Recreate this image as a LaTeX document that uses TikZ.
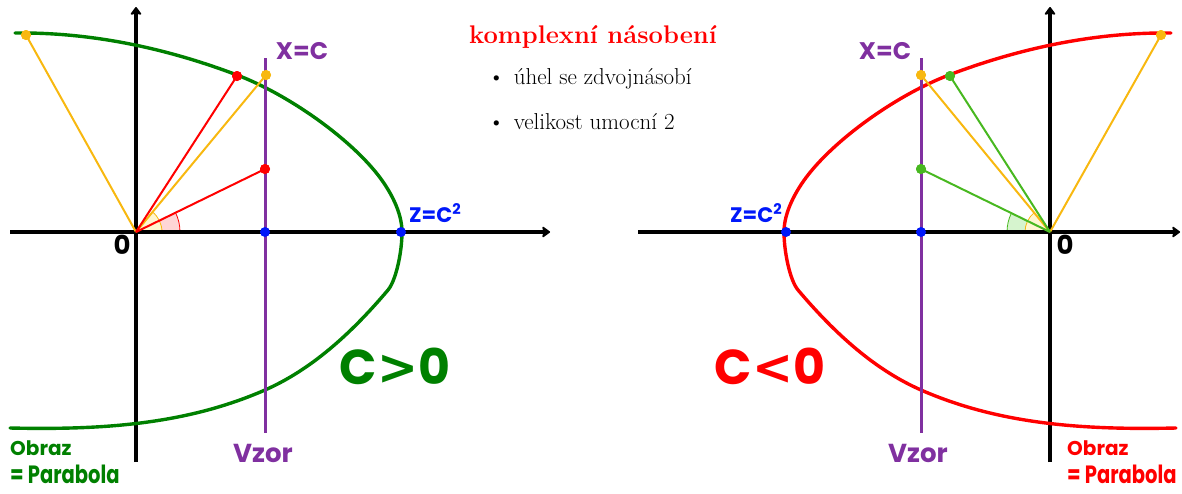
\documentclass[tikz,border=0pt]{standalone}
\usepackage{fontspec}
\usepackage{graphicx}
\newfontfamily\hand{Poppins}
\newfontfamily\symf{DejaVu Sans}
\usetikzlibrary{arrows.meta}
\definecolor{pgreen}{RGB}{0,128,0}
\definecolor{ppurple}{RGB}{128,48,160}
\definecolor{pyellow}{RGB}{248,184,16}
\definecolor{lgreen}{RGB}{72,184,32}
\definecolor{pblue}{RGB}{0,24,250}
\definecolor{pinkfill}{RGB}{255,214,214}
\definecolor{yelfill}{RGB}{255,246,208}
\definecolor{grnfill}{RGB}{214,244,206}
\tikzset{
  axis/.style={line width=3.3pt, -{Stealth[round,length=9pt,width=13pt,inset=2pt]}},
  parab/.style={line width=3.4pt, line cap=round, line join=round},
  vline/.style={draw=ppurple, line width=3pt},
  ray/.style={line width=2pt},
  dot/.style={circle, fill=#1, inner sep=0pt, minimum size=10pt},
  handtxt/.style={font=\hand\bfseries\fontsize{#1}{#1}\selectfont, inner sep=0pt},
  bullettxt/.style={anchor=west, font=\fontsize{23}{27}\selectfont, inner sep=0pt},
}
\newcommand{\parabpath}{(15,33) .. controls (100,32) and (177,52.2) .. (237,75)
  .. controls (287,94) and (348,136.6) .. (378,175)
  .. controls (390,190.4) and (402,212) .. (402,232)
  .. controls (402,252) and (396,280.5) .. (388,290)
  .. controls (349.5,335.5) and (310,370.2) .. (265,390)
  .. controls (185,425) and (100,430) .. (10,428)}
\newcommand{\gtsym}{{\symf\bfseries >}}
\newcommand{\ltsym}{{\symf\bfseries <}}
\begin{document}
\begin{tikzpicture}[x=1pt,y=-1pt]
\useasboundingbox (0,0) rectangle (1182,493);
% ===== LEFT PANEL =====
\coordinate (O1) at (136,232);
\coordinate (xa1) at (10,232);
\coordinate (xb1) at (550,232);
\coordinate (ya1) at (136,462);
\coordinate (yb1) at (136,7);
\coordinate (pa1) at (265,58);
\coordinate (pb1) at (265,433);
% angle wedges
\fill[pinkfill] (O1) -- ++(44,0) arc[start angle=0,end angle=-26,radius=44] -- cycle;
\draw[red, line width=0.8pt] (O1) ++(44,0) arc[start angle=0,end angle=-26,radius=44];
\fill[yelfill] (O1) -- ++(26,0) arc[start angle=0,end angle=-50.4,radius=26] -- cycle;
\draw[pyellow, line width=0.8pt] (O1) ++(26,0) arc[start angle=0,end angle=-50.4,radius=26];
% axes
\draw[axis] (xa1) -- (xb1);
\draw[axis] (ya1) -- (yb1);
% parabola
\draw[parab, pgreen] \parabpath;
% vertical line
\draw[vline] (pa1) -- (pb1);
% points
\node[dot=pyellow] (y1a) at (26,35) {};
\node[dot=pyellow] (y1b) at (266,75) {};
\node[dot=red] (r1a) at (237,76) {};
\node[dot=red] (r1b) at (265,169) {};
% rays
\draw[ray, pyellow] (O1) -- (y1a.center);
\draw[ray, pyellow] (O1) -- (y1b.center);
\draw[ray, red] (O1) -- (r1a.center);
\draw[ray, red] (O1) -- (r1b.center);
\node[dot=pyellow] at (y1a) {};
\node[dot=pyellow] at (y1b) {};
\node[dot=red] at (r1a) {};
\node[dot=red] at (r1b) {};
\node[dot=pblue] (b1a) at (265,232) {};
\node[dot=pblue] (b1b) at (401,232) {};
% labels
\node[handtxt=26] (o1) at (122,245) {0};
\node[handtxt=24, text=ppurple] (xc1) at (302,51) {X=C};
\node[handtxt=21, text=pblue, anchor=west] (zc1) at (409,213) {Z=C\textsuperscript{2}};
\node[handtxt=26, text=ppurple] (vz1) at (263,453) {Vzor};
\node[handtxt=49, text=pgreen] (cg) at (395,366) {C\gtsym0};
\node[handtxt=20, text=pgreen, anchor=west] (ob1) at (10,448) {Obraz};
\node[handtxt=25, text=pgreen, anchor=west] (pa1t) at (10,474) {\scalebox{0.78}[1]{= Parabola}};
% ===== RIGHT PANEL =====
\coordinate (O2) at (1050,232);
\coordinate (xa2) at (638,232);
\coordinate (xb2) at (1180,232);
\coordinate (ya2) at (1050,462);
\coordinate (yb2) at (1050,7);
\coordinate (pa2) at (921,58);
\coordinate (pb2) at (921,433);
\fill[grnfill] (O2) -- ++(-43,0) arc[start angle=180,end angle=206,radius=43] -- cycle;
\draw[lgreen, line width=0.8pt] (O2) ++(-43,0) arc[start angle=180,end angle=206,radius=43];
\fill[yelfill] (O2) -- ++(-25,0) arc[start angle=180,end angle=230.6,radius=25] -- cycle;
\draw[pyellow, line width=0.8pt] (O2) ++(-25,0) arc[start angle=180,end angle=230.6,radius=25];
\draw[axis] (xa2) -- (xb2);
\draw[axis] (ya2) -- (yb2);
\begin{scope}[xshift=1186pt, xscale=-1]
\draw[parab, red] \parabpath;
\end{scope}
\draw[vline] (pa2) -- (pb2);
\node[dot=pyellow] (y2a) at (1161,35) {};
\node[dot=pyellow] (y2b) at (921,75) {};
\node[dot=lgreen] (g2a) at (950,76) {};
\node[dot=lgreen] (g2b) at (921,169) {};
\draw[ray, pyellow] (O2) -- (y2a.center);
\draw[ray, pyellow] (O2) -- (y2b.center);
\draw[ray, lgreen] (O2) -- (g2a.center);
\draw[ray, lgreen] (O2) -- (g2b.center);
\node[dot=pyellow] at (y2a) {};
\node[dot=pyellow] at (y2b) {};
\node[dot=lgreen] at (g2a) {};
\node[dot=lgreen] at (g2b) {};
\node[dot=pblue] (b2a) at (921,232) {};
\node[dot=pblue] (b2b) at (786,232) {};
\node[handtxt=26] (o2) at (1065,245) {0};
\node[handtxt=24, text=ppurple] (xc2) at (885,51) {X=C};
\node[handtxt=21, text=pblue, anchor=west] (zc2) at (730,213) {Z=C\textsuperscript{2}};
\node[handtxt=26, text=ppurple] (vz2) at (918,453) {Vzor};
\node[handtxt=49, text=red] (cr) at (770,366) {C\ltsym0};
\node[handtxt=20, text=red, anchor=west] (ob2) at (1067,448) {Obraz};
\node[handtxt=25, text=red, anchor=west] (pa2t) at (1067,474) {\scalebox{0.78}[1]{= Parabola}};
% ===== CENTRE TEXT =====
\node[text=red, font=\bfseries\fontsize{25.5}{30}\selectfont, inner sep=0pt] (title) at (593,37) {komplexní násobení};
\node[bullettxt] (bl1) at (488,79) {\textbullet\hspace{9pt}úhel se zdvojnásobí};
\node[bullettxt] (bl2) at (488,122) {\textbullet\hspace{9pt}velikost umocní 2};
\end{tikzpicture}
\end{document}
